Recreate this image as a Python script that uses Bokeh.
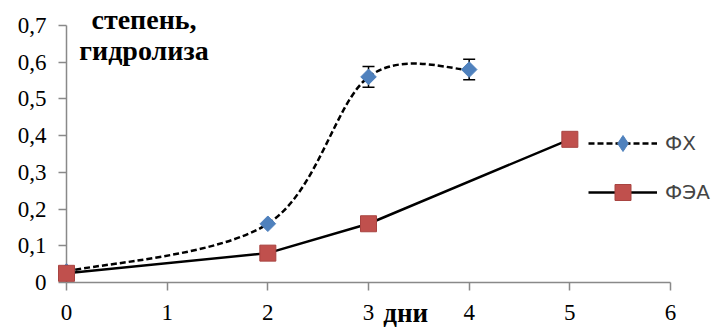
import numpy as np
from bokeh.plotting import figure
from bokeh.models import (Range1d, FixedTicker, Legend, LegendItem,
                          Whisker, TeeHead, ColumnDataSource)
from bokeh.core.properties import value
from bokeh.embed import file_html
from bokeh.resources import INLINE

# ---- data ----
days_fx = [0, 2, 3, 4]
fx = [0.03, 0.16, 0.56, 0.58]
fx_err = [0.0, 0.0, 0.028, 0.028]

days_fea = [0, 2, 3, 5]
fea = [0.025, 0.08, 0.16, 0.39]

x_ticks = [0, 1, 2, 3, 4, 5, 6]
y_ticks = [0, 0.1, 0.2, 0.3, 0.4, 0.5, 0.6, 0.7]
y_tick_labels = ["0", "0,1", "0,2", "0,3", "0,4", "0,5", "0,6", "0,7"]
series_names = ["ФХ", "ФЭА"]
y_title = ["степень,", "гидролиза"]
x_title = "дни"

BLUE = "#4F81BD"
RED = "#C0504D"
AXIS = "#898989"
SERIF = "Liberation Serif"

X_MAX, Y_MAX = 6, 0.7
# frame extends past the axes (right/top) so legend and title are not clipped
p = figure(width=713, height=327, output_backend="svg", toolbar_location=None,
           x_range=Range1d(0, 6.427), y_range=Range1d(0, 0.7681),
           min_border_left=66, min_border_right=0, min_border_top=0,
           min_border_bottom=45)
p.outline_line_color = None
p.xgrid.visible = False
p.ygrid.visible = False

for ax in (p.xaxis[0], p.yaxis[0]):
    ax.axis_line_color = AXIS
    ax.axis_line_width = 1.5
    ax.major_tick_line_color = AXIS
    ax.major_tick_line_width = 1.5
    ax.major_tick_out = 8
    ax.major_tick_in = 0
    ax.minor_tick_line_color = None
    ax.major_label_text_font = SERIF
    ax.major_label_text_font_size = "23px"
    ax.major_label_text_color = "black"

p.xaxis.bounds = (0, X_MAX)
p.yaxis.bounds = (0, Y_MAX)
p.xaxis.ticker = FixedTicker(ticks=x_ticks)
p.yaxis.ticker = FixedTicker(ticks=y_ticks)
p.yaxis.major_label_overrides = {t: l for t, l in zip(y_ticks, y_tick_labels)}
p.xaxis.major_label_standoff = 14
p.yaxis.major_label_standoff = 12

# ---- smoothed ФХ curve (Catmull-Rom style bezier like Excel smoothing) ----
xs = np.array(days_fx, dtype=float)
ys = np.array(fx, dtype=float)
n = len(xs)
x0s, y0s, x1s, y1s, cx0, cy0, cx1, cy1 = [], [], [], [], [], [], [], []
for i in range(n - 1):
    pm = i - 1 if i > 0 else i
    pp = i + 2 if i + 2 < n else i + 1
    x0s.append(xs[i]); y0s.append(ys[i])
    x1s.append(xs[i + 1]); y1s.append(ys[i + 1])
    cx0.append(xs[i] + (xs[i + 1] - xs[pm]) / 6)
    cy0.append(ys[i] + (ys[i + 1] - ys[pm]) / 6)
    cx1.append(xs[i + 1] - (xs[pp] - xs[i]) / 6)
    cy1.append(ys[i + 1] - (ys[pp] - ys[i]) / 6)

p.bezier(x0=x0s, y0=y0s, x1=x1s, y1=y1s, cx0=cx0, cy0=cy0, cx1=cx1, cy1=cy1,
         line_color="black", line_width=2.5, line_dash="6 3")

fea_line = p.line(days_fea, fea, line_color="black", line_width=2.5)

# error bars
err_src = ColumnDataSource(dict(
    x=[d for d, e in zip(days_fx, fx_err) if e > 0],
    upper=[v + e for v, e in zip(fx, fx_err) if e > 0],
    lower=[v - e for v, e in zip(fx, fx_err) if e > 0]))
wk = Whisker(base="x", upper="upper", lower="lower", source=err_src,
             dimension="height", line_color="black", line_width=1.5,
             upper_head=TeeHead(size=12, line_color="black", line_width=1.5),
             lower_head=TeeHead(size=12, line_color="black", line_width=1.5))
p.add_layout(wk)

# legend proxies (single point, hidden under the first red square)
fx_leg_line = p.line(x=days_fx[:1], y=fx[:1], line_color="black",
                     line_width=2.5, line_dash="6 3")
fx_leg_mark = p.scatter(x=days_fx[:1], y=fx[:1], marker="diamond", size=1,
                        fill_color=BLUE, line_color=BLUE)

fx_marks = p.scatter(days_fx, fx, marker="square", angle=np.pi / 4, size=11,
                     fill_color=BLUE, line_color=BLUE, level="overlay")
fea_marks = p.scatter(days_fea, fea, marker="square", size=16,
                      fill_color=RED, line_color="#A84441", line_width=1,
                      level="overlay")

legend = Legend(items=[
    LegendItem(label=series_names[0], renderers=[fx_leg_line, fx_leg_mark]),
    LegendItem(label=series_names[1], renderers=[fea_line, fea_marks]),
], location=(522, 70), orientation="vertical",
    glyph_width=69, glyph_height=40, label_height=40, spacing=9,
    padding=0, margin=0, label_standoff=8,
    label_text_font="DejaVu Sans", label_text_font_size="20px",
    border_line_color=None, background_fill_alpha=0)
p.add_layout(legend)

# titles (text glyphs at overlay level are not clipped to the frame)
p.text(x=[0.77], y=[Y_MAX], text=[y_title[0]], text_align="center",
       text_baseline="middle", text_font=value(SERIF),
       text_font_size="28px", text_font_style="bold", y_offset=-6,
       text_color="black", level="overlay")
p.text(x=[0.77], y=[Y_MAX], text=[y_title[1]], text_align="center",
       text_baseline="middle", text_font=value(SERIF),
       text_font_size="28px", text_font_style="bold", y_offset=25,
       text_color="black", level="overlay")
p.text(x=[3.37], y=[0], text=[x_title], text_align="center",
       text_baseline="middle", text_font=value(SERIF),
       text_font_size="27px", text_font_style="bold", y_offset=30,
       text_color="black", level="overlay")

open("out.html", "w").write(file_html(p, INLINE))
